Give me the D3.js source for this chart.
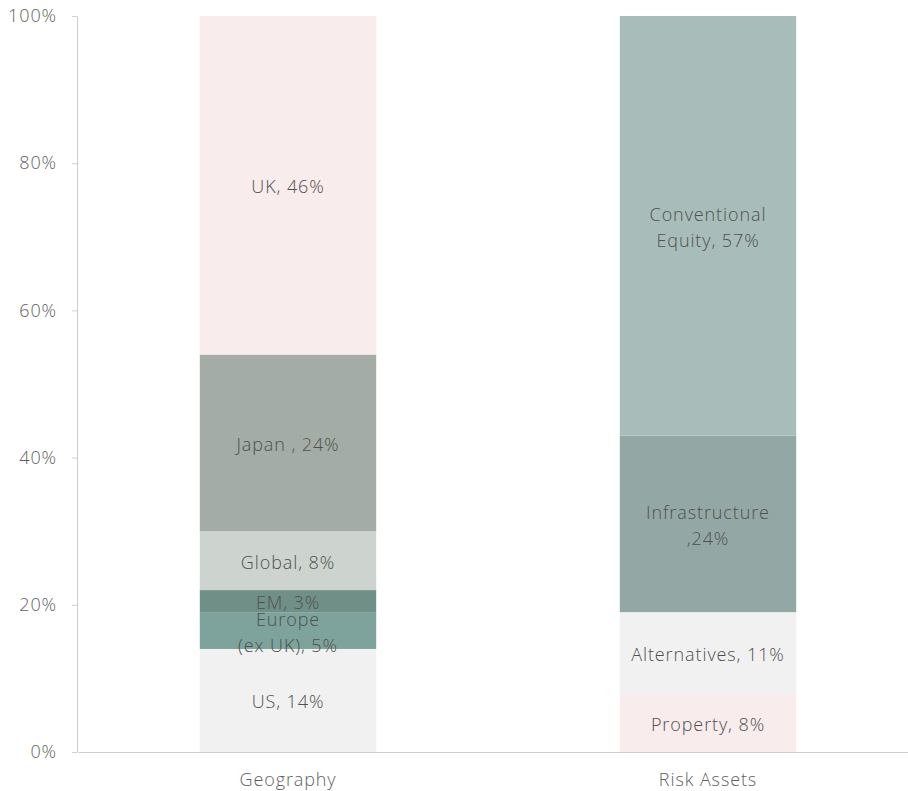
<!DOCTYPE html>
<html lang="en">
<head>
<meta charset="UTF-8">
<title>allocation</title>
<script src="https://cdn.jsdelivr.net/npm/d3@7"></script>
<style>
  body { margin: 0; background: #fff; }
  svg text { font-family: "Open Sans", sans-serif; font-weight: 300; letter-spacing: 0.9px; }
  .axis path, .axis line { stroke: #c9d0ce; }
  .axis text { fill: #5f5f5f; font-size: 18px; }
</style>
</head>
<body>
<script>
let width = 908;
let height = 791;

let categories = ['Geography', 'Risk Assets'];
let geoLabels = ['US, 14%', 'Europe\n(ex UK), 5%', 'EM, 3%', 'Global, 8%', 'Japan , 24%', 'UK, 46%'];
let geoValues = [14, 5, 3, 8, 24, 46];
let geoColors = ['#f0f1f0', '#7da39c', '#6f8f87', '#cdd3cf', '#a3aca6', '#f8ecec'];
let riskLabels = ['Property, 8%', 'Alternatives, 11%', 'Infrastructure\n,24%', 'Conventional\nEquity, 57%'];
let riskValues = [8, 11, 24, 57];
let riskColors = ['#f8ecec', '#f0f1f0', '#93a8a4', '#a8bdb9'];
let yTicks = [0, 20, 40, 60, 80, 100];

let svg = d3.select('body')
  .append('svg')
  .attr('width', width)
  .attr('height', height);

let x = d3.scaleBand()
  .domain(categories)
  .range([78, 918])
  .paddingInner(0.58)
  .paddingOuter(0.29);

let y = d3.scaleLinear()
  .domain([0, 100])
  .range([752, 16]);

function buildStack(labels, values, colors) {
  let acc = 0;
  return values.map(function (v, i) {
    let d = { label: labels[i], y0: acc, y1: acc + v, color: colors[i] };
    acc += v;
    return d;
  });
}

let groups = [
  { cat: 'Geography', segs: buildStack(geoLabels, geoValues, geoColors) },
  { cat: 'Risk Assets', segs: buildStack(riskLabels, riskValues, riskColors) }
];

let yAxis = d3.axisLeft(y)
  .tickValues(yTicks)
  .tickFormat(function (d) { return d + '%'; })
  .tickSize(5)
  .tickSizeOuter(0)
  .tickPadding(15);

svg.append('g')
  .attr('class', 'axis y-axis')
  .attr('transform', 'translate(77,0)')
  .call(yAxis);

groups.forEach(function (g) {
  let bar = svg.append('g');
  bar.selectAll('rect')
    .data(g.segs)
    .enter()
    .append('rect')
    .attr('x', x(g.cat))
    .attr('width', x.bandwidth())
    .attr('y', function (d) { return y(d.y1); })
    .attr('height', function (d) { return y(d.y0) - y(d.y1); })
    .attr('fill', function (d) { return d.color; });

  // labels centred in each segment, wrapped on \n
  bar.selectAll('text')
    .data(g.segs)
    .enter()
    .append('text')
    .attr('text-anchor', 'middle')
    .attr('fill', '#505050')
    .attr('font-size', '18px')
    .each(function (d) {
      let lines = d.label.split('\n');
      let cy = (y(d.y0) + y(d.y1)) / 2;
      let start = cy - (lines.length - 1) * 13 + 8;
      let t = d3.select(this);
      lines.forEach(function (ln, i) {
        t.append('tspan')
          .attr('x', x(g.cat) + x.bandwidth() / 2)
          .attr('y', start + i * 26)
          .text(ln);
      });
    });
});

let xAxis = d3.axisBottom(x)
  .tickSize(0)
  .tickPadding(21);

svg.append('g')
  .attr('class', 'axis x-axis')
  .attr('transform', 'translate(0,752)')
  .call(xAxis);
</script>
</body>
</html>
